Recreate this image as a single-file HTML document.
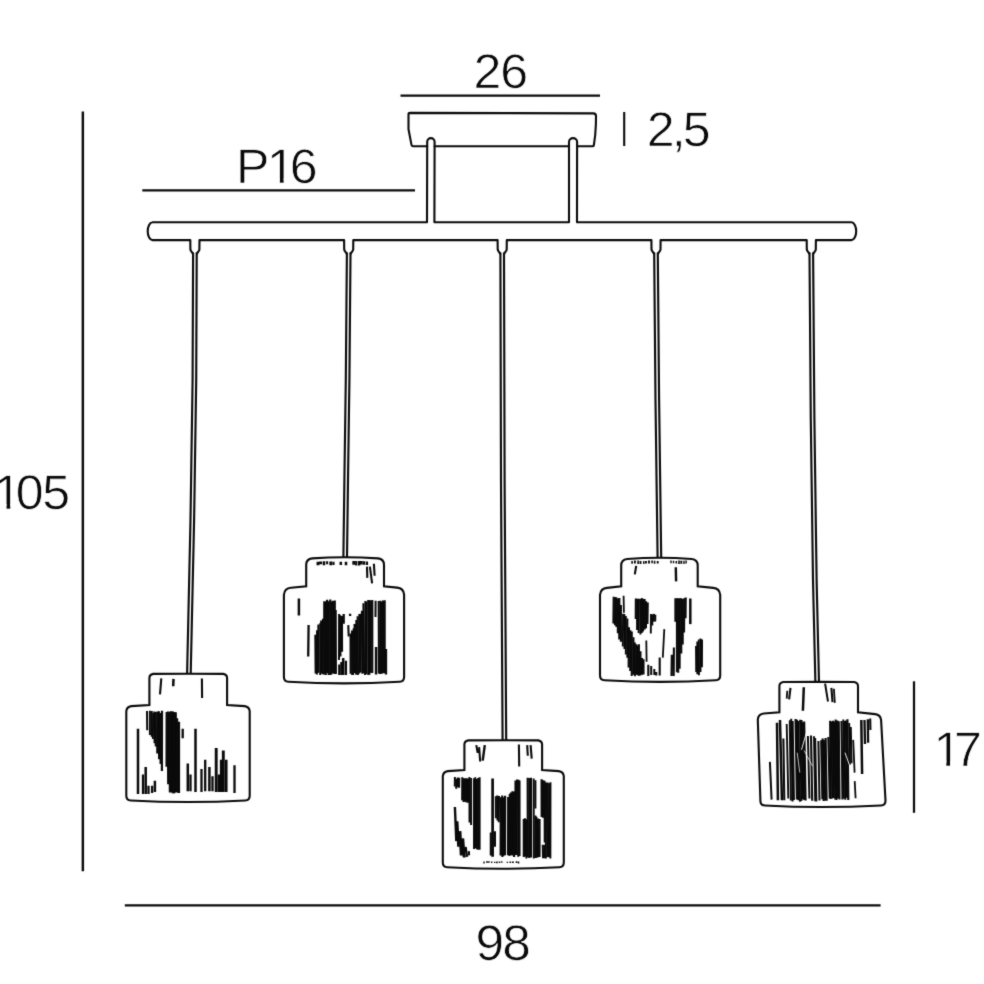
<!DOCTYPE html>
<html lang="en">
<head>
<meta charset="utf-8">
<title>Pendant lamp dimensions</title>
<style>
html,body{margin:0;padding:0;background:#fff;}
body{width:984px;height:984px;overflow:hidden;position:relative;}
svg{position:absolute;left:0;top:0;display:block;}
#stage{position:absolute;left:0;top:0;width:984px;height:984px;}
svg text{font-family:"Liberation Sans",sans-serif;fill:#0a0a0a;stroke:#fff;stroke-width:0.7px;paint-order:fill stroke;text-rendering:geometricPrecision;}
</style>
</head>
<body>
<div id="stage">
<svg width="984" height="984" viewBox="0 0 984 984">
<defs><filter id="soft" x="0" y="0" width="984" height="984" filterUnits="userSpaceOnUse" color-interpolation-filters="sRGB"><feConvolveMatrix order="3" kernelMatrix="0.02 0.085 0.02 0.085 0.58 0.085 0.02 0.085 0.02" edgeMode="duplicate"/></filter></defs>
<g filter="url(#soft)">
<rect x="0" y="0" width="984" height="984" fill="#fff"/>
<line x1="82.85" y1="111.50" x2="82.85" y2="871.20" stroke="#0a0a0a" stroke-width="2.45" stroke-linecap="butt"/>
<line x1="400.50" y1="95.50" x2="600.00" y2="95.50" stroke="#0a0a0a" stroke-width="2.25" stroke-linecap="butt"/>
<line x1="624.20" y1="112.00" x2="624.20" y2="146.00" stroke="#0a0a0a" stroke-width="2.1" stroke-linecap="butt"/>
<line x1="142.30" y1="190.40" x2="415.00" y2="190.40" stroke="#0a0a0a" stroke-width="2.25" stroke-linecap="butt"/>
<line x1="124.80" y1="905.30" x2="880.60" y2="905.30" stroke="#0a0a0a" stroke-width="2.25" stroke-linecap="butt"/>
<line x1="914.00" y1="681.30" x2="914.00" y2="812.80" stroke="#0a0a0a" stroke-width="2.25" stroke-linecap="butt"/>
<path d="M410,112.9 L593.4,113.4 Q596,113.5 596,116.2 L595.9,124 Q595.5,136 593.9,145 Q593.7,146.3 592.3,146.3 L577.1,146.3 M569,146.3 L434.6,146.3 M427.2,146.3 L413.2,146.3 Q411.8,146.3 411.5,144.9 L408.5,129.3 L408.5,114.3 Q408.5,112.9 410,112.9" fill="none" stroke="#0a0a0a" stroke-width="2.1" stroke-linejoin="round" stroke-linecap="round"/>
<path d="M152.5,222.3 L427.0,222.3 L427.2,141.8 A3.7,3.7 0 0 1 434.6,141.8 L434.4,222.3 L569.0,222.3 L569.0,142.0 A4.05,3.9 0 0 1 577.1,142.0 L577.0,222.3 L851.4,222.3 A4.8,8.9 0 0 1 851.4,240.1 L815.9,240.1 L815.8,249.4 Q815.7,250.6 814.9,251.3 L813.3,253.6 M809.3,253.6 L807.7,251.3 Q806.9,250.6 806.8,249.4 L806.7,240.1 L660.6,240.1 L660.5,249.4 Q660.4,250.6 659.6,251.3 L658.0,253.6 M654.0,253.6 L652.4,251.3 Q651.6,250.6 651.5,249.4 L651.4,240.1 L506.8,240.1 L506.7,249.4 Q506.6,250.6 505.8,251.3 L504.2,253.6 M500.2,253.6 L498.6,251.3 Q497.8,250.6 497.7,249.4 L497.6,240.1 L353.3,240.1 L353.2,249.4 Q353.1,250.6 352.3,251.3 L350.7,253.6 M346.7,253.6 L345.1,251.3 Q344.3,250.6 344.2,249.4 L344.1,240.1 L199.5,240.1 L199.4,249.4 Q199.3,250.6 198.5,251.3 L196.9,253.6 M192.9,253.6 L191.3,251.3 Q190.5,250.6 190.4,249.4 L190.3,240.1 L152.5,240.1 A4.8,8.9 0 0 1 152.5,222.3" fill="none" stroke="#0a0a0a" stroke-width="2.1" stroke-linejoin="round" stroke-linecap="round"/>
<path d="M193.10,253.20 L192.60,380.00 L190.50,520.00 L187.10,674.00" fill="none" stroke="#0a0a0a" stroke-width="2.15" stroke-linejoin="round" stroke-linecap="round"/>
<path d="M196.70,253.20 L196.20,380.00 L194.10,520.00 L190.70,674.00" fill="none" stroke="#0a0a0a" stroke-width="2.15" stroke-linejoin="round" stroke-linecap="round"/>
<path d="M346.90,253.20 L345.80,380.00 L344.40,480.00 L343.40,557.50" fill="none" stroke="#0a0a0a" stroke-width="2.15" stroke-linejoin="round" stroke-linecap="round"/>
<path d="M350.50,253.20 L349.40,380.00 L348.00,480.00 L347.00,557.50" fill="none" stroke="#0a0a0a" stroke-width="2.15" stroke-linejoin="round" stroke-linecap="round"/>
<path d="M500.40,253.20 L501.00,480.00 L502.60,740.50" fill="none" stroke="#0a0a0a" stroke-width="2.15" stroke-linejoin="round" stroke-linecap="round"/>
<path d="M504.00,253.20 L504.60,480.00 L506.20,740.50" fill="none" stroke="#0a0a0a" stroke-width="2.15" stroke-linejoin="round" stroke-linecap="round"/>
<path d="M654.20,253.20 L655.50,400.00 L657.60,558.00" fill="none" stroke="#0a0a0a" stroke-width="2.15" stroke-linejoin="round" stroke-linecap="round"/>
<path d="M657.80,253.20 L659.10,400.00 L661.20,558.00" fill="none" stroke="#0a0a0a" stroke-width="2.15" stroke-linejoin="round" stroke-linecap="round"/>
<path d="M809.50,253.20 L810.80,420.00 L813.00,580.00 L815.40,682.50" fill="none" stroke="#0a0a0a" stroke-width="2.15" stroke-linejoin="round" stroke-linecap="round"/>
<path d="M813.10,253.20 L814.40,420.00 L816.60,580.00 L819.00,682.50" fill="none" stroke="#0a0a0a" stroke-width="2.15" stroke-linejoin="round" stroke-linecap="round"/>
<path d="M149.4,705.1 L149.4,678.1 Q149.4,674.7 153.2,673.9 Q188.7,673.7 223.3,673.9 Q227.1,674.7 227.1,678.1 L227.1,705.1 L244.7,706.1 Q249.1,706.7 249.7,711.1 L249.7,795.7 Q249.7,800.2 245.2,800.5 Q188.0,803.6 130.8,800.5 Q126.3,800.2 126.3,795.7 L126.3,711.1 Q126.9,706.7 131.3,706.1 Z" fill="#fff" stroke="#0a0a0a" stroke-width="2.1" stroke-linejoin="miter" stroke-linecap="round"/>
<path d="M161.3,678.4L160.0,694.3M201.9,678.4L202.1,697.9M151.7,711.0L151.8,736.8M154.3,711.5L154.6,743.2M155.7,712.0L155.8,746.4M158.9,711.3L159.1,759.3" fill="none" stroke="#0a0a0a" stroke-width="2.1" stroke-linecap="butt"/>
<path d="M173.5,678.9L173.2,686.2M138.0,728.7L138.0,794.0M195.5,728.7L195.5,792.0M171.1,711.2L171.5,792.1M175.6,712.3L175.6,792.2M145.7,767.1L145.7,794.0M154.9,780.8L154.9,792.1M187.8,763.4L187.8,791.2M209.4,767.1L209.4,791.2M218.9,774.4L218.9,792.1M221.1,759.8L221.1,792.1" fill="none" stroke="#0a0a0a" stroke-width="2.5" stroke-linecap="butt"/>
<path d="M182.7,728.7L182.7,738.2M143.0,774.4L143.0,794.0M148.5,785.7L148.5,794.0M152.1,785.7L152.1,793.0M190.5,774.4L190.5,791.2M201.5,768.9L201.5,792.1M205.2,759.8L205.2,791.2M212.5,776.2L212.5,791.2M234.5,765.2L234.5,793.0" fill="none" stroke="#0a0a0a" stroke-width="2.3" stroke-linecap="butt"/>
<path d="M147.0,711.1L147.2,730.2M149.9,710.8L149.9,734.9" fill="none" stroke="#0a0a0a" stroke-width="2.0" stroke-linecap="butt"/>
<path d="M153.2,713.1L152.9,738.9M160.3,713.1L160.5,763.9" fill="none" stroke="#0a0a0a" stroke-width="1.9" stroke-linecap="butt"/>
<path d="M157.4,711.5L157.3,753.5M162.0,710.8L161.9,770.9" fill="none" stroke="#0a0a0a" stroke-width="2.2" stroke-linecap="butt"/>
<path d="M167.0,711.9L166.9,766.8M216.2,747.9L216.2,792.1M223.3,750.6L223.3,792.1" fill="none" stroke="#0a0a0a" stroke-width="2.9" stroke-linecap="butt"/>
<path d="M168.2,711.6L168.5,784.2M178.7,721.8L178.7,792.9" fill="none" stroke="#0a0a0a" stroke-width="2.8" stroke-linecap="butt"/>
<path d="M169.8,712.1L170.0,792.4" fill="none" stroke="#0a0a0a" stroke-width="2.4" stroke-linecap="butt"/>
<path d="M172.6,711.5L172.8,793.2M226.2,759.8L226.2,792.1" fill="none" stroke="#0a0a0a" stroke-width="2.7" stroke-linecap="butt"/>
<path d="M174.1,712.1L174.2,793.2M176.9,718.2L177.2,792.3" fill="none" stroke="#0a0a0a" stroke-width="2.6" stroke-linecap="butt"/>
<path d="M306.2,586.2 L306.2,564.8 Q306.2,559.2 312.2,558.4 Q344.6,556.0 378.0,558.4 Q384.0,559.2 384.0,564.8 L384.0,586.2 L397.1,587.6 Q403.5,588.2 404.1,594.6 L404.1,677.0 Q404.1,681.5 399.6,681.8 Q344.0,684.9 288.4,681.8 Q283.9,681.5 283.9,677.0 L283.9,594.8 Q284.5,588.4 290.9,587.8 Z" fill="#fff" stroke="#0a0a0a" stroke-width="2.1" stroke-linejoin="miter" stroke-linecap="round"/>
<path d="M318.0,561.7L318.0,565.2M320.7,561.4L320.7,564.3M330.8,561.5L330.8,565.2M353.8,561.0L353.8,564.7M361.3,561.1L361.3,564.6" fill="none" stroke="#0a0a0a" stroke-width="2.9" stroke-linecap="butt"/>
<path d="M324.0,561.2L324.0,565.3M340.8,561.8L340.8,564.9M346.0,561.7L346.0,565.3M359.1,560.9L359.1,565.6M364.1,561.2L364.1,564.7M298.9,598.6L298.9,615.4M343.2,658.0L343.2,674.9M376.1,647.1L376.1,674.5" fill="none" stroke="#0a0a0a" stroke-width="2.5" stroke-linecap="butt"/>
<path d="M327.1,561.3L327.1,564.3M333.5,561.7L333.5,564.9M356.2,560.9L356.2,565.5M367.0,561.4L367.0,565.0M367.0,566.6L367.3,577.9M369.9,566.6L372.1,583.4M373.9,563.8L374.6,575.7M317.1,630.2L316.9,674.6M318.4,624.4L318.3,672.7M323.0,618.7L322.6,674.2M328.8,601.3L328.6,675.0M341.3,662.1L341.3,674.9M348.3,625.1L348.7,636.5M366.4,601.4L366.3,674.3M369.5,600.0L369.4,674.8M372.3,599.9L372.3,672.9M380.3,600.8L380.1,674.0M381.8,601.9L381.7,673.7M382.8,600.6L382.8,673.2M384.7,600.3L384.7,673.2" fill="none" stroke="#0a0a0a" stroke-width="2.1" stroke-linecap="butt"/>
<path d="M308.6,625.1L308.2,656.6M339.3,664.5L339.3,674.9M343.7,614.1L343.7,623.7M350.1,613.8L350.1,616.0M345.9,660.8L345.9,674.9M386.0,648.9L386.0,674.5" fill="none" stroke="#0a0a0a" stroke-width="2.3" stroke-linecap="butt"/>
<path d="M315.4,634.7L315.7,673.5M321.2,620.4L321.5,673.2M324.3,601.2L324.2,674.5M325.7,601.2L325.7,675.0M327.1,599.7L327.5,673.0M330.3,599.4L330.2,675.0M333.1,600.7L332.9,673.3M334.8,600.4L334.5,674.1M341.9,616.1L342.0,651.8M352.1,630.6L352.2,675.0M354.6,624.1L355.0,673.0M356.4,620.0L356.1,674.4M357.7,616.3L357.8,675.0M362.0,610.8L362.5,673.8" fill="none" stroke="#0a0a0a" stroke-width="2.2" stroke-linecap="butt"/>
<path d="M320.2,623.2L320.2,674.9M331.5,601.4L331.5,674.6M339.1,614.1L339.0,659.9M340.2,615.3L340.5,656.5M350.5,633.5L350.6,673.8M363.4,603.2L363.8,673.1M375.6,600.8L375.5,617.0" fill="none" stroke="#0a0a0a" stroke-width="2.0" stroke-linecap="butt"/>
<path d="M335.8,610.1L336.0,673.9M353.6,628.3L353.2,675.0M359.3,614.1L359.2,673.5M360.8,613.7L360.7,672.4M365.3,601.0L365.0,674.9M368.1,600.0L368.2,675.0M371.0,600.5L370.8,672.7M378.6,601.0L378.9,673.4" fill="none" stroke="#0a0a0a" stroke-width="1.9" stroke-linecap="butt"/>
<path d="M464.4,770.1 L464.4,744.6 Q464.4,741.2 468.2,740.4 Q504.5,740.1 538.3,740.4 Q542.1,741.2 542.1,744.6 L542.1,770.1 L558.8,771.1 Q563.2,771.7 563.8,776.1 L563.8,862.4 Q563.8,866.9 559.3,867.2 Q503.3,870.3 447.3,867.2 Q442.8,866.9 442.8,862.4 L442.8,776.1 Q443.4,771.7 447.8,771.1 Z" fill="#fff" stroke="#0a0a0a" stroke-width="2.1" stroke-linejoin="miter" stroke-linecap="round"/>
<path d="M476.3,745.1L477.7,752.9M479.1,747.2L480.2,761.5M518.9,744.4L519.2,766.4M527.2,745.1L527.8,755.8M530.6,745.1L531.7,758.6M462.3,777.3L462.2,800.3M466.5,778.3L466.6,802.4M468.1,778.5L468.3,802.7M476.8,778.9L476.9,849.3M490.8,832.6L490.8,855.6M500.8,797.3L500.6,855.5M502.2,795.4L502.4,856.9M515.5,780.5L515.3,855.1M518.5,779.8L518.2,856.7M535.4,815.4L535.3,858.0M537.9,818.4L538.0,857.3M547.7,782.6L547.7,857.1M542.8,844.7L543.1,858.2" fill="none" stroke="#0a0a0a" stroke-width="2.1" stroke-linecap="butt"/>
<path d="M484.8,745.1L482.7,760.7M454.9,807.0L456.3,841.1M465.6,846.8L467.0,856.8" fill="none" stroke="#0a0a0a" stroke-width="2.4" stroke-linecap="butt"/>
<path d="M454.9,777.1L454.8,786.6M457.8,777.4L457.8,787.1M459.2,777.8L459.1,787.7M471.1,777.9L471.1,824.9M478.2,778.0L478.2,849.8M479.6,777.3L479.6,849.8M468.9,851.1L469.1,855.4M495.0,831.2L495.0,846.8M495.8,796.3L495.9,818.2M499.0,795.9L498.8,822.3M503.5,797.2L503.4,856.1M509.7,794.0L509.6,855.9M510.8,792.5L511.1,855.1M512.4,791.3L512.3,855.6M517.0,779.6L516.7,855.1M523.7,819.0L523.7,856.9M524.9,818.3L524.8,856.6M526.5,819.2L526.4,858.5M529.5,778.0L529.2,857.9M535.4,780.2L535.4,808.5M536.4,816.7L536.7,857.8M539.6,818.9L539.6,856.9M544.6,780.8L544.7,842.6M546.0,782.4L545.9,858.5M544.6,844.7L544.6,858.2" fill="none" stroke="#0a0a0a" stroke-width="2.0" stroke-linecap="butt"/>
<path d="M456.4,778.8L456.3,788.8M463.7,778.3L463.6,802.1M465.0,778.3L465.3,801.8M497.2,795.4L497.6,820.5M505.1,795.8L505.0,855.3M508.2,797.0L508.1,855.2M514.0,791.6L514.1,856.9M527.7,777.7L527.8,857.2M531.0,777.8L531.0,857.4M541.6,779.2L541.7,816.9M543.1,780.2L543.1,817.8" fill="none" stroke="#0a0a0a" stroke-width="2.2" stroke-linecap="butt"/>
<path d="M469.4,777.1L469.5,822.4M474.0,778.3L474.0,849.1M475.3,777.2L475.5,848.2M519.6,780.6L519.6,855.9M533.7,778.5L533.8,858.5M549.2,783.3L548.9,857.3M550.5,782.2L550.4,858.6" fill="none" stroke="#0a0a0a" stroke-width="1.9" stroke-linecap="butt"/>
<path d="M457.1,821.2L458.5,846.8M492.6,778.5L492.6,856.8" fill="none" stroke="#0a0a0a" stroke-width="2.7" stroke-linecap="butt"/>
<path d="M459.9,831.2L461.3,855.4M462.7,838.3L464.2,857.5" fill="none" stroke="#0a0a0a" stroke-width="3.0" stroke-linecap="butt"/>
<path d="M484.0,861.6L484.0,863.6M491.7,861.6L491.7,863.0M494.7,861.7L494.7,863.0M501.8,861.3L501.8,862.8M507.4,861.7L507.4,862.9" fill="none" stroke="#0a0a0a" stroke-width="1.4" stroke-linecap="butt"/>
<path d="M487.0,861.2L487.0,862.8M512.9,861.6L512.9,862.9" fill="none" stroke="#0a0a0a" stroke-width="1.9" stroke-linecap="butt"/>
<path d="M488.9,861.2L488.9,862.8M496.9,861.5L496.9,863.2M499.5,861.4L499.5,863.1M510.3,861.6L510.3,863.0M516.5,861.3L516.5,863.1M518.5,861.4L518.5,863.4" fill="none" stroke="#0a0a0a" stroke-width="1.6" stroke-linecap="butt"/>
<path d="M621.2,586.3 L621.2,565.4 Q621.2,559.8 627.2,559.0 Q659.5,556.5 691.7,559.0 Q697.7,559.8 697.7,565.4 L697.7,586.3 L713.2,587.9 Q719.6,588.5 720.2,594.9 L720.2,675.5 Q720.2,680.0 715.7,680.3 Q660.1,683.4 604.5,680.3 Q600.0,680.0 600.0,675.5 L600.0,594.9 Q600.6,588.5 607.0,587.9 Z" fill="#fff" stroke="#0a0a0a" stroke-width="2.1" stroke-linejoin="miter" stroke-linecap="round"/>
<path d="M636.2,565.8L634.8,574.3M613.7,596.7L613.4,623.5M620.9,605.1L620.9,641.7M627.3,618.4L627.4,657.8M643.5,659.2L643.5,674.5M648.3,664.7L648.3,676.0M659.7,657.6L659.7,675.5M643.0,598.8L643.0,631.6M652.2,614.5L652.2,625.5M679.8,598.3L679.6,668.8M673.9,647.6L673.7,676.0M671.8,654.7L671.5,676.0M700.5,638.6L700.4,671.9" fill="none" stroke="#0a0a0a" stroke-width="2.1" stroke-linecap="butt"/>
<path d="M675.8,567.2L676.1,581.4" fill="none" stroke="#0a0a0a" stroke-width="2.4" stroke-linecap="butt"/>
<path d="M615.1,597.3L615.0,625.3M624.3,614.0L624.5,649.1M630.4,630.3L630.2,671.0M631.8,631.5L631.7,675.9M651.2,666.1L651.2,674.9M654.3,668.9L654.3,674.9M656.3,672.1L656.3,675.5M635.8,598.4L635.7,619.0M640.2,598.9L640.4,634.6M655.3,614.7L655.2,621.4M676.9,598.3L676.9,672.2" fill="none" stroke="#0a0a0a" stroke-width="2.0" stroke-linecap="butt"/>
<path d="M616.2,597.2L616.5,627.1M617.8,598.4L617.9,633.2M619.3,598.1L619.3,639.6M628.9,627.3L628.7,667.5M633.4,637.2L633.3,674.8M636.4,644.2L636.2,674.7M637.5,645.4L637.8,675.3M642.0,658.1L641.9,674.7M637.2,598.7L637.2,630.0M646.0,601.2L645.9,628.3M647.7,602.5L647.4,623.9M653.9,613.9L653.6,621.6M681.2,598.3L681.2,653.6M684.3,598.3L684.0,632.4M685.7,597.5L685.5,618.3M701.9,639.5L701.8,667.3" fill="none" stroke="#0a0a0a" stroke-width="2.2" stroke-linecap="butt"/>
<path d="M623.6,595.7L623.9,612.7M646.3,640.5L646.6,661.8M664.3,629.1L662.8,657.6" fill="none" stroke="#0a0a0a" stroke-width="1.8" stroke-linecap="butt"/>
<path d="M623.1,613.7L622.8,646.6M625.8,616.0L625.8,654.4M634.9,642.4L634.9,676.2M639.0,644.3L639.0,675.7M640.6,651.2L640.4,675.6M638.8,598.8L638.6,633.0M641.7,598.1L641.8,632.9M644.7,598.9L644.8,629.6M651.0,614.0L650.8,633.5M675.3,598.2L675.3,621.8M678.1,598.3L678.3,672.8M682.8,599.0L682.8,644.6M696.0,645.9L696.2,672.0M697.3,641.4L697.3,674.3M698.8,639.4L699.0,675.2" fill="none" stroke="#0a0a0a" stroke-width="1.9" stroke-linecap="butt"/>
<path d="M690.3,598.5L690.3,624.1" fill="none" stroke="#0a0a0a" stroke-width="2.5" stroke-linecap="butt"/>
<path d="M632.1,561.1L632.1,563.7M638.1,560.5L638.1,563.9M652.1,560.5L652.1,563.2M654.6,560.8L654.6,563.7M676.3,561.0L676.3,563.6M679.0,560.6L679.0,563.9" fill="none" stroke="#0a0a0a" stroke-width="1.6" stroke-linecap="butt"/>
<path d="M634.9,560.6L634.9,563.4M640.5,561.1L640.5,564.0M646.0,560.9L646.0,563.6M649.0,560.5L649.0,563.6M657.7,560.9L657.7,563.4M681.3,560.8L681.3,563.7" fill="none" stroke="#0a0a0a" stroke-width="1.9" stroke-linecap="butt"/>
<path d="M643.8,560.9L643.8,563.9M671.0,560.6L671.0,563.2M673.5,560.8L673.5,563.3M684.0,560.7L684.0,564.0M686.1,560.5L686.1,563.4" fill="none" stroke="#0a0a0a" stroke-width="1.4" stroke-linecap="butt"/>
<path d="M779.4,712.3 L779.4,686.2 Q779.4,682.8 783.2,682.0 Q817.1,681.8 854.2,682.0 Q858.0,682.8 858.0,686.2 L858.0,712.3 L875.1,714.1 Q880.5,714.7 881.1,720.1 L885.5,800.7 Q885.5,805.2 881.0,805.5 Q819.5,808.6 764.9,805.5 Q760.4,805.2 760.4,800.7 L757.8,719.5 Q758.4,714.1 763.8,713.5 Z" fill="#fff" stroke="#0a0a0a" stroke-width="2.1" stroke-linejoin="miter" stroke-linecap="round"/>
<path d="M787.3,690.8L786.7,698.6M833.9,688.7L834.8,702.9M853.2,739.9L854.6,772.6M854.7,781.1L855.6,798.2" fill="none" stroke="#0a0a0a" stroke-width="1.8" stroke-linecap="butt"/>
<path d="M790.5,687.9L789.1,699.3M831.4,687.9L832.5,702.2M783.4,738.4L784.3,800.3M796.9,719.7L798.5,800.3M801.5,720.1L802.8,799.3M804.2,721.5L805.6,800.4M811.0,735.4L812.2,800.8M841.5,721.0L842.5,799.5M850.7,726.9L851.5,763.3M870.2,718.5L870.4,729.9" fill="none" stroke="#0a0a0a" stroke-width="2.1" stroke-linecap="butt"/>
<path d="M803.8,687.2L802.9,710.7M777.0,722.8L777.9,800.3M780.0,720.0L781.9,800.3M861.3,720.0L862.1,774.0" fill="none" stroke="#0a0a0a" stroke-width="2.5" stroke-linecap="butt"/>
<path d="M825.1,683.7L828.0,701.5M769.9,761.9L771.6,799.6M789.8,720.2L790.9,800.6M800.1,719.7L801.4,801.0M807.9,736.0L809.4,798.6M818.4,741.1L819.5,800.6M823.9,740.1L825.2,800.5M830.1,720.7L830.7,799.1M834.3,721.5L835.2,799.4M835.6,719.4L836.5,800.1M837.4,720.6L838.0,798.6M838.8,721.3L839.5,799.6M844.4,721.1L845.3,799.7" fill="none" stroke="#0a0a0a" stroke-width="2.0" stroke-linecap="butt"/>
<path d="M786.7,723.9L788.3,798.5M791.2,718.7L792.6,801.4M792.7,721.1L794.0,800.0M798.3,721.0L800.0,801.7M814.0,736.3L815.2,801.2M815.2,738.0L816.4,801.6M821.1,740.3L822.3,799.2M831.6,721.6L832.2,798.4M843.3,719.4L843.9,798.6M849.2,723.0L849.9,764.8" fill="none" stroke="#0a0a0a" stroke-width="1.9" stroke-linecap="butt"/>
<path d="M795.6,718.9L797.0,799.6M802.9,722.3L804.3,800.1M822.6,738.5L823.7,800.9M825.6,738.1L826.6,800.8M828.4,736.9L829.8,798.5M832.9,720.7L833.6,797.9M846.0,720.5L846.8,797.7M847.4,719.3L848.3,799.9" fill="none" stroke="#0a0a0a" stroke-width="2.2" stroke-linecap="butt"/>
<path d="M864.5,720.0L865.0,744.1M867.8,719.2L868.1,742.7" fill="none" stroke="#0a0a0a" stroke-width="2.3" stroke-linecap="butt"/>
<path d="M807.2,729.9L801.5,749.8M845.0,752.7L849.6,765.5" fill="none" stroke="#fff" stroke-width="0.9" stroke-linecap="butt"/>
<path d="M797.2,752.7L799.8,772.6M804.1,750.5L812.6,766.2" fill="none" stroke="#fff" stroke-width="0.7" stroke-linecap="butt"/>
<g>
<text transform="scale(1.03,1)" y="87.9" x="459.64 485.69" font-size="48.6">26</text>
<text transform="scale(1.03,1)" y="182.9" x="229.20 259.18 281.22" font-size="48.6">P16</text>
<text transform="scale(1.03,1)" y="146.1" x="628.04 652.13 662.89" font-size="48.6">2,5</text>
<text transform="scale(1.03,1)" y="508.5" x="-6.21 15.32 41.10" font-size="48.6">105</text>
<text transform="scale(1.03,1)" y="959.7" x="461.64 487.65" font-size="50.0">98</text>
<text transform="scale(1.03,1)" y="765.8" x="906.21 926.31" font-size="48.6">17</text>
<rect x="269.96" y="178.47" width="9.93" height="5.23" fill="#fff"/>
<rect x="283.61" y="178.47" width="9.53" height="5.23" fill="#fff"/>
<rect x="-3.39" y="504.07" width="9.93" height="5.23" fill="#fff"/>
<rect x="10.26" y="504.07" width="9.53" height="5.23" fill="#fff"/>
<rect x="936.41" y="761.37" width="9.93" height="5.23" fill="#fff"/>
<rect x="950.06" y="761.37" width="9.53" height="5.23" fill="#fff"/>
</g>
</g>
</svg>
</div>
</body>
</html>
